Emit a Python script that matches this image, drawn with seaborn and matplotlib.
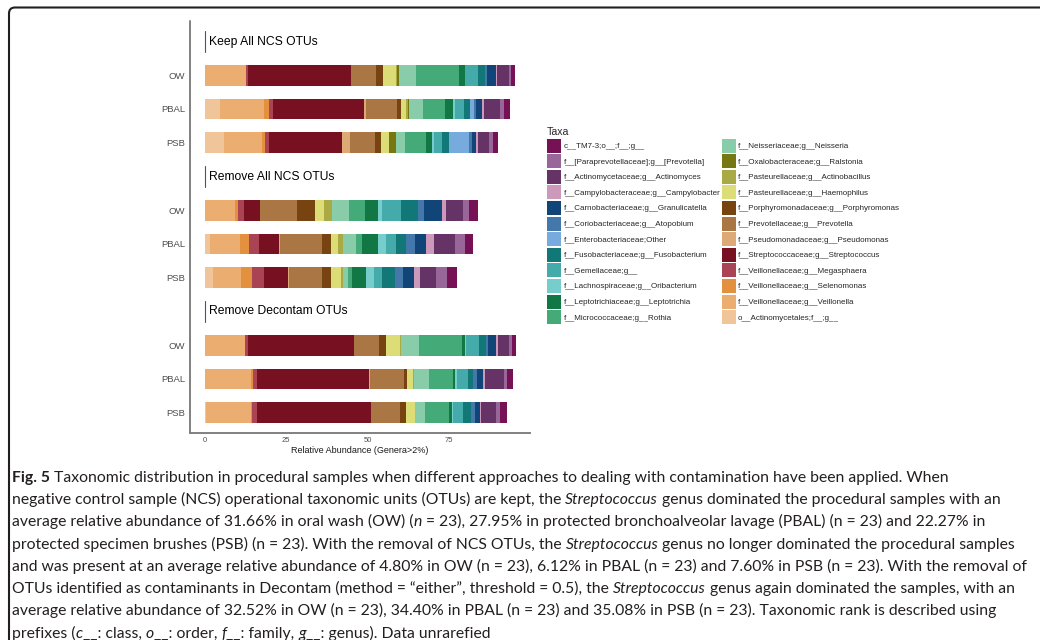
import matplotlib
matplotlib.use("Agg")
import numpy as np
import pandas as pd
import matplotlib.pyplot as plt
import seaborn as sns
from matplotlib.patches import Patch, FancyBboxPatch
from matplotlib.transforms import IdentityTransform
from matplotlib.lines import Line2D
from matplotlib import font_manager

# ---------------- data (stack order, left to right) ----------------
taxa = [
    "o__Actinomycetales;f__;g__",
    "f__Veillonellaceae;g__Veillonella",
    "f__Veillonellaceae;g__Selenomonas",
    "f__Veillonellaceae;g__Megasphaera",
    "f__Streptococcaceae;g__Streptococcus",
    "f__Pseudomonadaceae;g__Pseudomonas",
    "f__Prevotellaceae;g__Prevotella",
    "f__Porphyromonadaceae;g__Porphyromonas",
    "f__Pasteurellaceae;g__Haemophilus",
    "f__Pasteurellaceae;g__Actinobacillus",
    "f__Oxalobacteraceae;g__Ralstonia",
    "f__Neisseriaceae;g__Neisseria",
    "f__Micrococcaceae;g__Rothia",
    "f__Leptotrichiaceae;g__Leptotrichia",
    "f__Lachnospiraceae;g__Oribacterium",
    "f__Gemellaceae;g__",
    "f__Fusobacteriaceae;g__Fusobacterium",
    "f__Enterobacteriaceae;Other",
    "f__Coriobacteriaceae;g__Atopobium",
    "f__Carnobacteriaceae;g__Granulicatella",
    "f__Campylobacteraceae;g__Campylobacter",
    "f__Actinomycetaceae;g__Actinomyces",
    "f__[Paraprevotellaceae];g__[Prevotella]",
    "c__TM7-3;o__;f__;g__",
]
taxa_colors = [
    "#F0C59A", "#EBAD70", "#E3903F", "#AA4455", "#771122", "#DDAA77",
    "#AA7744", "#774411", "#DDDD77", "#AAAA44", "#777711", "#88CCAA",
    "#44AA77", "#117744", "#77CCCC", "#44AAAA", "#117777", "#77AADD",
    "#4477AA", "#114477", "#CC99BB", "#663366", "#996699", "#771155",
]
samples = ["OW", "PBAL", "PSB"]
facets = ["Keep All NCS OTUs", "Remove All NCS OTUs", "Remove Decontam OTUs"]

keep_ow   = [0.0, 12.5, 0.0, 0.7, 31.66, 0.0, 7.7, 2.15, 4.0, 0.4, 0.4, 5.3, 13.2, 1.8, 0.2, 3.8, 2.15, 0.2, 0.6, 2.6, 0.3, 3.7, 0.6, 1.2]
keep_pbal = [4.6, 13.4, 1.6, 1.3, 27.95, 0.6, 9.5, 1.2, 1.5, 0.6, 0.6, 4.3, 6.5, 2.5, 0.6, 2.8, 1.8, 1.2, 0.9, 1.8, 0.6, 4.9, 1.2, 1.8]
keep_psb  = [5.8, 11.6, 1.2, 1.15, 22.27, 2.5, 7.7, 1.8, 2.5, 0.0, 2.15, 2.8, 6.5, 1.8, 0.6, 2.5, 2.15, 6.1, 0.9, 1.2, 0.6, 3.4, 1.2, 1.5]

remove_ow   = [0.0, 9.3, 0.9, 1.8, 4.80, 0.0, 11.4, 5.5, 2.8, 2.5, 0.0, 5.2, 4.9, 4.0, 1.2, 6.1, 5.2, 0.0, 1.8, 5.5, 1.2, 5.2, 1.8, 2.8]
remove_pbal = [1.5, 9.2, 2.8, 3.1, 6.12, 0.3, 12.9, 2.8, 2.15, 1.5, 0.0, 4.0, 1.8, 4.9, 2.5, 3.1, 3.1, 0.0, 2.8, 3.4, 2.5, 6.5, 2.8, 2.5]
remove_psb  = [2.5, 8.7, 3.4, 3.4, 7.60, 0.3, 10.1, 2.8, 3.1, 0.6, 0.0, 1.5, 1.2, 4.3, 2.5, 2.5, 4.0, 0.0, 2.5, 3.4, 1.8, 4.9, 3.4, 3.1]

decontam_ow   = [0.0, 12.4, 0.0, 0.9, 32.52, 0.0, 7.7, 2.15, 4.3, 0.3, 0.0, 5.5, 13.2, 0.9, 0.5, 3.8, 2.15, 0.0, 0.6, 2.5, 0.6, 3.4, 0.9, 1.2]
decontam_pbal = [0.0, 14.1, 0.6, 1.2, 34.40, 0.3, 10.5, 0.9, 1.8, 0.6, 0.0, 4.6, 7.1, 0.9, 0.6, 3.1, 1.8, 0.0, 1.2, 1.8, 0.6, 5.8, 0.9, 1.8]
decontam_psb  = [0.3, 14.0, 0.3, 1.5, 35.08, 0.0, 8.9, 1.8, 2.8, 0.0, 0.0, 2.8, 7.4, 1.2, 0.3, 2.8, 2.5, 0.0, 1.2, 1.5, 0.6, 4.6, 1.2, 2.1]

facet_values = {
    facets[0]: [keep_ow, keep_pbal, keep_psb],
    facets[1]: [remove_ow, remove_pbal, remove_psb],
    facets[2]: [decontam_ow, decontam_pbal, decontam_psb],
}
x_ticks = [0, 25, 50, 75]
x_label = "Relative Abundance (Genera>2%)"
legend_title = "Taxa"

caption_lines = [
    [("Fig. 5", "b"), (" Taxonomic distribution in procedural samples when different approaches to dealing with contamination have been applied. When", "r")],
    [("negative control sample (NCS) operational taxonomic units (OTUs) are kept, the ", "r"), ("Streptococcus", "i"), (" genus dominated the procedural samples with an", "r")],
    [("average relative abundance of 31.66% in oral wash (OW) (", "r"), ("n", "i"), (" = 23), 27.95% in protected bronchoalveolar lavage (PBAL) (n = 23) and 22.27% in", "r")],
    [("protected specimen brushes (PSB) (n = 23). With the removal of NCS OTUs, the ", "r"), ("Streptococcus", "i"), (" genus no longer dominated the procedural samples", "r")],
    [("and was present at an average relative abundance of 4.80% in OW (n = 23), 6.12% in PBAL (n = 23) and 7.60% in PSB (n = 23). With the removal of", "r")],
    [("OTUs identified as contaminants in Decontam (method = \u201ceither\u201d, threshold = 0.5), the ", "r"), ("Streptococcus", "i"), (" genus again dominated the samples, with an", "r")],
    [("average relative abundance of 32.52% in OW (n = 23), 34.40% in PBAL (n = 23) and 35.08% in PSB (n = 23). Taxonomic rank is described using", "r")],
    [("prefixes (", "r"), ("c", "i"), ("__: class, ", "r"), ("o", "i"), ("__: order, ", "r"), ("f", "i"), ("__: family, ", "r"), ("g", "i"), ("__: genus). Data unrarefied", "r")],
]

# ---------------- layout ----------------
W, H = 1040, 640
sns.set_theme(style="white")
plt.rcParams["font.family"] = ["Liberation Sans", "DejaVu Sans"]

fig = plt.figure(figsize=(W / 100, H / 100), dpi=100)
fig.patch.set_facecolor("white")
IDT = IdentityTransform()

def dy(y):  # image y (top-down) -> display y
    return H - y

AX_LEFT, AX_W = 190, 340
PANEL_TOP0, PANEL_H, PERIOD = 55.2, 107.6, 135.0
XMIN, XMAX = -4.6, 99.9

for k, facet in enumerate(facets):
    top = PANEL_TOP0 + PERIOD * k
    ax = fig.add_axes([AX_LEFT / W, 1 - (top + PANEL_H) / H, AX_W / W, PANEL_H / H])
    vals = np.array(facet_values[facet])  # samples x taxa
    cum = np.cumsum(vals, axis=1)
    rows = []
    for si, s in enumerate(samples):
        for ti, t in enumerate(taxa):
            rows.append({"sample": s, "taxon": t, "value": vals[si, ti], "cum": cum[si, ti]})
    df = pd.DataFrame(rows)
    for ti in range(len(taxa) - 1, -1, -1):
        sub = df[df["taxon"] == taxa[ti]]
        sns.barplot(data=sub, x="cum", y="sample", order=samples, orient="h",
                    color=taxa_colors[ti], saturation=1, width=0.62,
                    linewidth=0, errorbar=None, ax=ax)
    ax.set_xlim(XMIN, XMAX)
    ax.set_ylim(2.6, -0.6)
    ax.set_ylabel("")
    ax.set_xlabel("")
    for sp in ax.spines.values():
        sp.set_visible(False)
    ax.set_yticks(range(len(samples)))
    ax.set_yticklabels(samples)
    ax.tick_params(axis="y", length=0, pad=3.6, labelsize=6.8, labelcolor="#4d4d4d")
    ax.grid(False)
    ax.set_facecolor("white")
    if k == len(facets) - 1:
        ax.spines["bottom"].set_visible(True)
        ax.spines["bottom"].set_color("#808080")
        ax.spines["bottom"].set_linewidth(1.4)
        ax.set_xticks(x_ticks)
        ax.set_xticklabels([str(v) for v in x_ticks])
        ax.tick_params(axis="x", length=0, pad=3.2, labelsize=5.5, labelcolor="#4d4d4d")
        ax.set_xlabel(x_label, fontsize=6.5, color="#1a1a1a", labelpad=1.5)
    else:
        ax.set_xticks([])
    # strip title
    sc = 41.5 + PERIOD * k
    fig.add_artist(Line2D([205, 205], [dy(sc - 10.5), dy(sc + 10.5)], transform=IDT,
                          color="#5a4a78", lw=0.8))
    fig.text(209, dy(sc), facet, transform=IDT, va="center", ha="left",
             fontsize=8.7, color="black")

# continuous left axis line
fig.add_artist(Line2D([AX_LEFT, AX_LEFT], [dy(21), dy(PANEL_TOP0 + 2 * PERIOD + PANEL_H)],
                      transform=IDT, color="#808080", lw=1.4))

# legend
LFS = 5.75
handles = [Patch(facecolor=c, edgecolor="none", linewidth=0) for c in taxa_colors[::-1]]
labels = taxa[::-1]
fig.legend(handles, labels, loc="upper left", bbox_to_anchor=(547 / W, 1 - 127 / H),
           bbox_transform=fig.transFigure, ncol=2, frameon=False, fontsize=LFS,
           title=legend_title, title_fontsize=7.6, alignment="left",
           handlelength=1.75, handleheight=2.32, labelspacing=0.2,
           handletextpad=0.3, columnspacing=0.2, borderpad=0, borderaxespad=0)

# outer frame
fig.add_artist(FancyBboxPatch((9, -40), 1200, dy(7.5) + 40,
                              boxstyle="round,pad=0,rounding_size=6", transform=IDT,
                              fill=False, ec="#231f20", lw=1.5))

# caption
avail = {f.name for f in font_manager.fontManager.ttflist}
cap_font = next((f for f in ["Lato", "Liberation Sans Narrow", "Open Sans"] if f in avail), "DejaVu Sans")
renderer = fig.canvas.get_renderer()
STY = {"r": dict(style="normal", weight="normal"),
       "i": dict(style="italic", weight="normal"),
       "b": dict(style="normal", weight="bold")}

def seg_width(s, st, fs):
    t1 = fig.text(0, 0, s + "|", fontsize=fs, family=cap_font, **STY[st])
    t2 = fig.text(0, 0, "|", fontsize=fs, family=cap_font, **STY[st])
    w = t1.get_window_extent(renderer).width - t2.get_window_extent(renderer).width
    t1.remove(); t2.remove()
    return w

base_fs = 11.0
wmax = max(sum(seg_width(s, st, base_fs) for s, st in ln) for ln in caption_lines)
cap_fs = base_fs * 1012 / wmax

for i, line in enumerate(caption_lines):
    x = 12.0
    yb = 481.7 + 22.3 * i
    for s, st in line:
        fig.text(x, dy(yb), s, transform=IDT, va="baseline", ha="left",
                 fontsize=cap_fs, family=cap_font, color="#231f20", **STY[st])
        x += seg_width(s, st, cap_fs)

fig.savefig("out.png", dpi=100)
